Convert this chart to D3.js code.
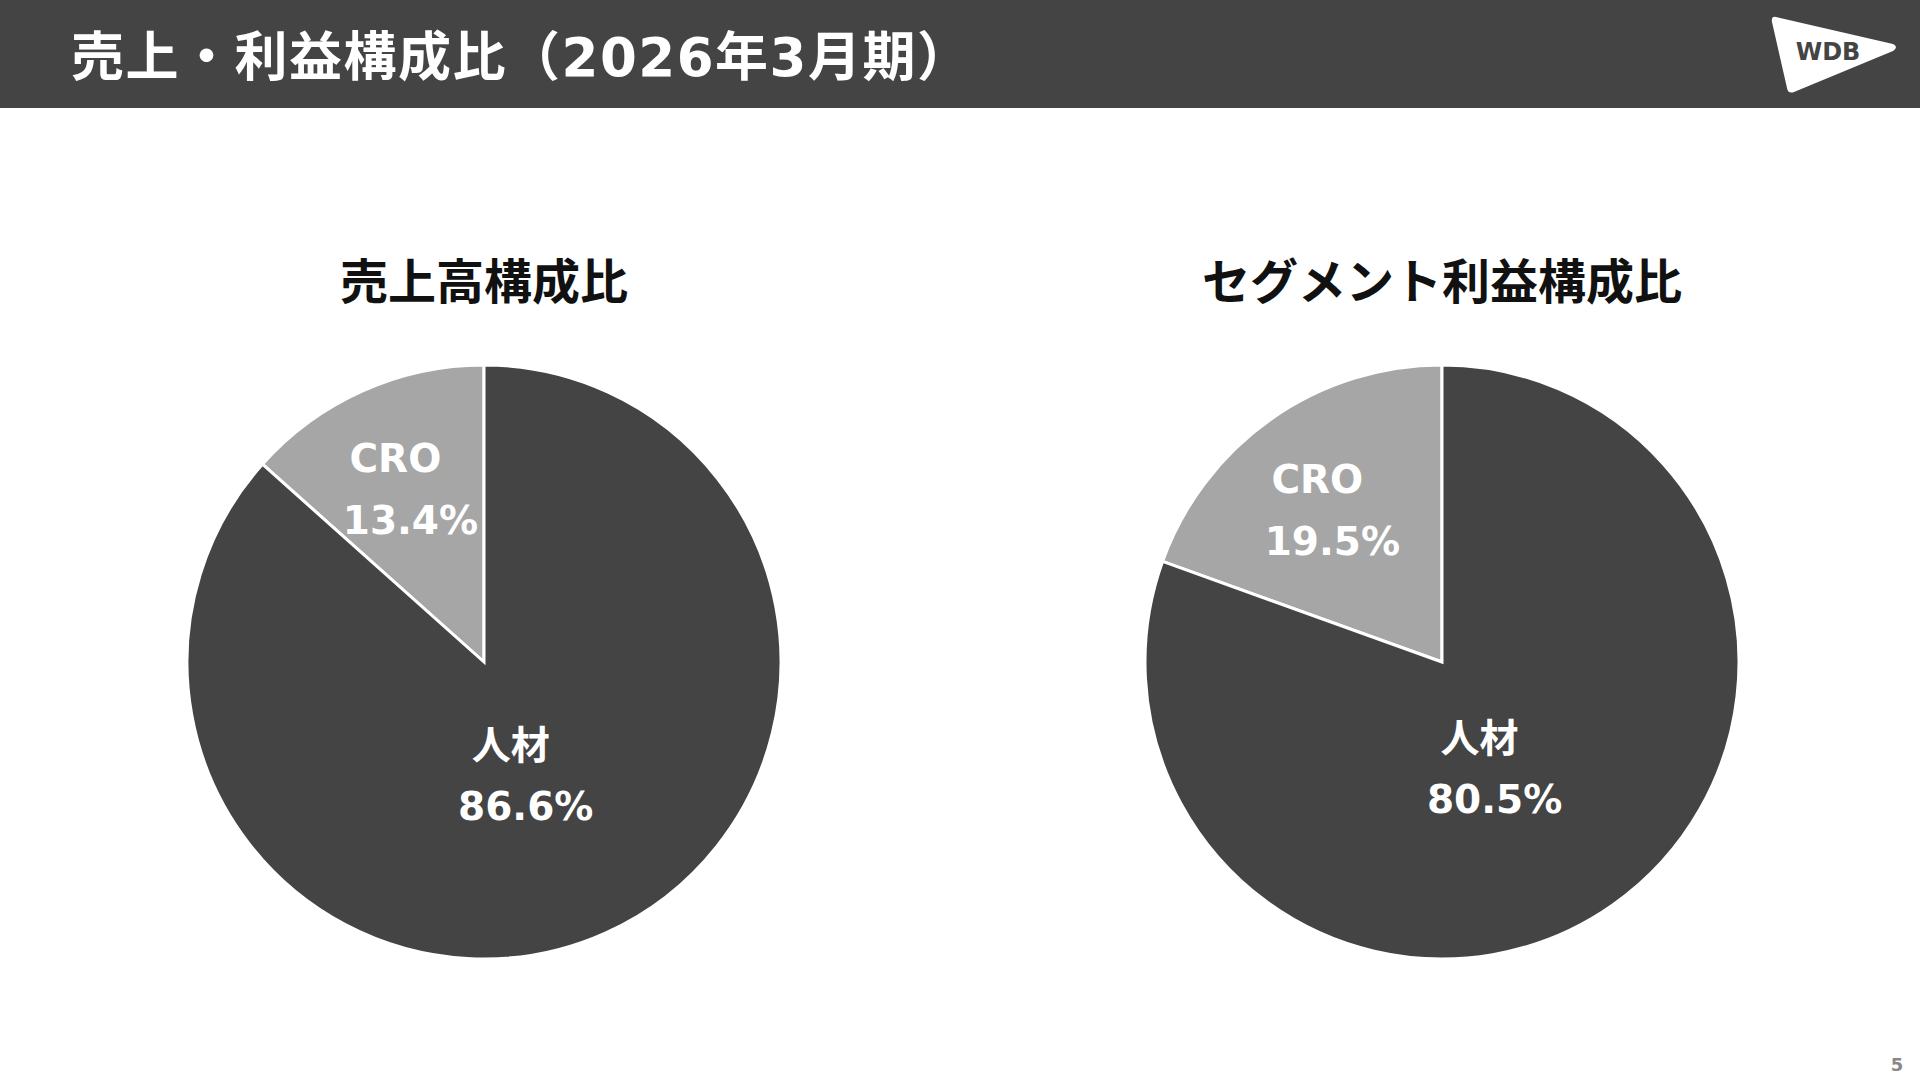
<!DOCTYPE html><html><head><meta charset="utf-8">
<script src="https://cdn.jsdelivr.net/npm/d3@7"></script>
<style>body{margin:0;background:#fff}svg{display:block}text{font-family:"DejaVu Sans","Noto Sans CJK JP",sans-serif;font-weight:700}</style>
</head><body><svg id="c" width="1920" height="1080"></svg>
<script>
const categories = ["CRO", "人材"];
const salesShare = [13.4, 86.6];
const profitShare = [19.5, 80.5];
const chartTitles = ["売上高構成比", "セグメント利益構成比"];
const pageTitle = "売上・利益構成比（2026年3月期）";
const colors = ["#a6a6a6", "#444444"];

const svg = d3.select("#c");
svg.append("rect").attr("width",1920).attr("height",108).attr("fill","#444444");
svg.append("text").attr("x",71).attr("y",76).attr("fill","#fff").attr("font-size",53).attr("letter-spacing",1.5).text(pageTitle);
svg.append("path").attr("d","M1776,17 L1893,44 Q1899,47 1893,51 L1794,92 Q1788,94 1787,88 L1772,22 Q1771,16 1776,17 Z").attr("fill","#fff");
svg.append("text").attr("x",1828).attr("y",60).attr("text-anchor","middle").attr("font-size",24).attr("fill","#444").text("WDB");
svg.append("text").attr("x",1897).attr("y",1071).attr("text-anchor","middle").attr("font-size",18).attr("fill","#888").text("5");

const pies = [{cx:484, data:salesShare, title:chartTitles[0]},{cx:1442, data:profitShare, title:chartTitles[1]}];
const R = 297, cy = 662;
const pie = d3.pie().sort(null).value(d=>d.v);
const arc = d3.arc().innerRadius(0).outerRadius(R);
pies.forEach(p=>{
  svg.append("text").attr("x",p.cx).attr("y",299).attr("text-anchor","middle").attr("font-size",48).attr("fill","#111").text(p.title);
  const g = svg.append("g").attr("transform",`translate(${p.cx},${cy})`);
  const arcs = pie(categories.map((c,i)=>({c, v:p.data[i], i})));
  const off = -2*Math.PI*p.data[0]/100;
  arcs.forEach(a=>{a.startAngle+=off; a.endAngle+=off;});
  g.selectAll("path").data(arcs).join("path").attr("d",arc)
    .attr("fill",d=>colors[d.data.i]).attr("stroke","#fff").attr("stroke-width",3);
  arcs.forEach(a=>{
    const isCro = a.data.i===0;
    const r = isCro ? R*0.73 : R*0.22;
    const m = (a.startAngle+a.endAngle)/2;
    const x = Math.sin(m)*r, y = -Math.cos(m)*r + (isCro?-6:23);
    const t = g.append("text").attr("text-anchor","middle").attr("fill","#fff").attr("font-size",39);
    t.append("tspan").attr("x",x).attr("y",y+14).text(a.data.c);
    t.append("tspan").attr("x",x+15).attr("y",y+14+(isCro?62:61)).text(a.data.v.toFixed(1)+"%");
  });
});
</script></body></html>
